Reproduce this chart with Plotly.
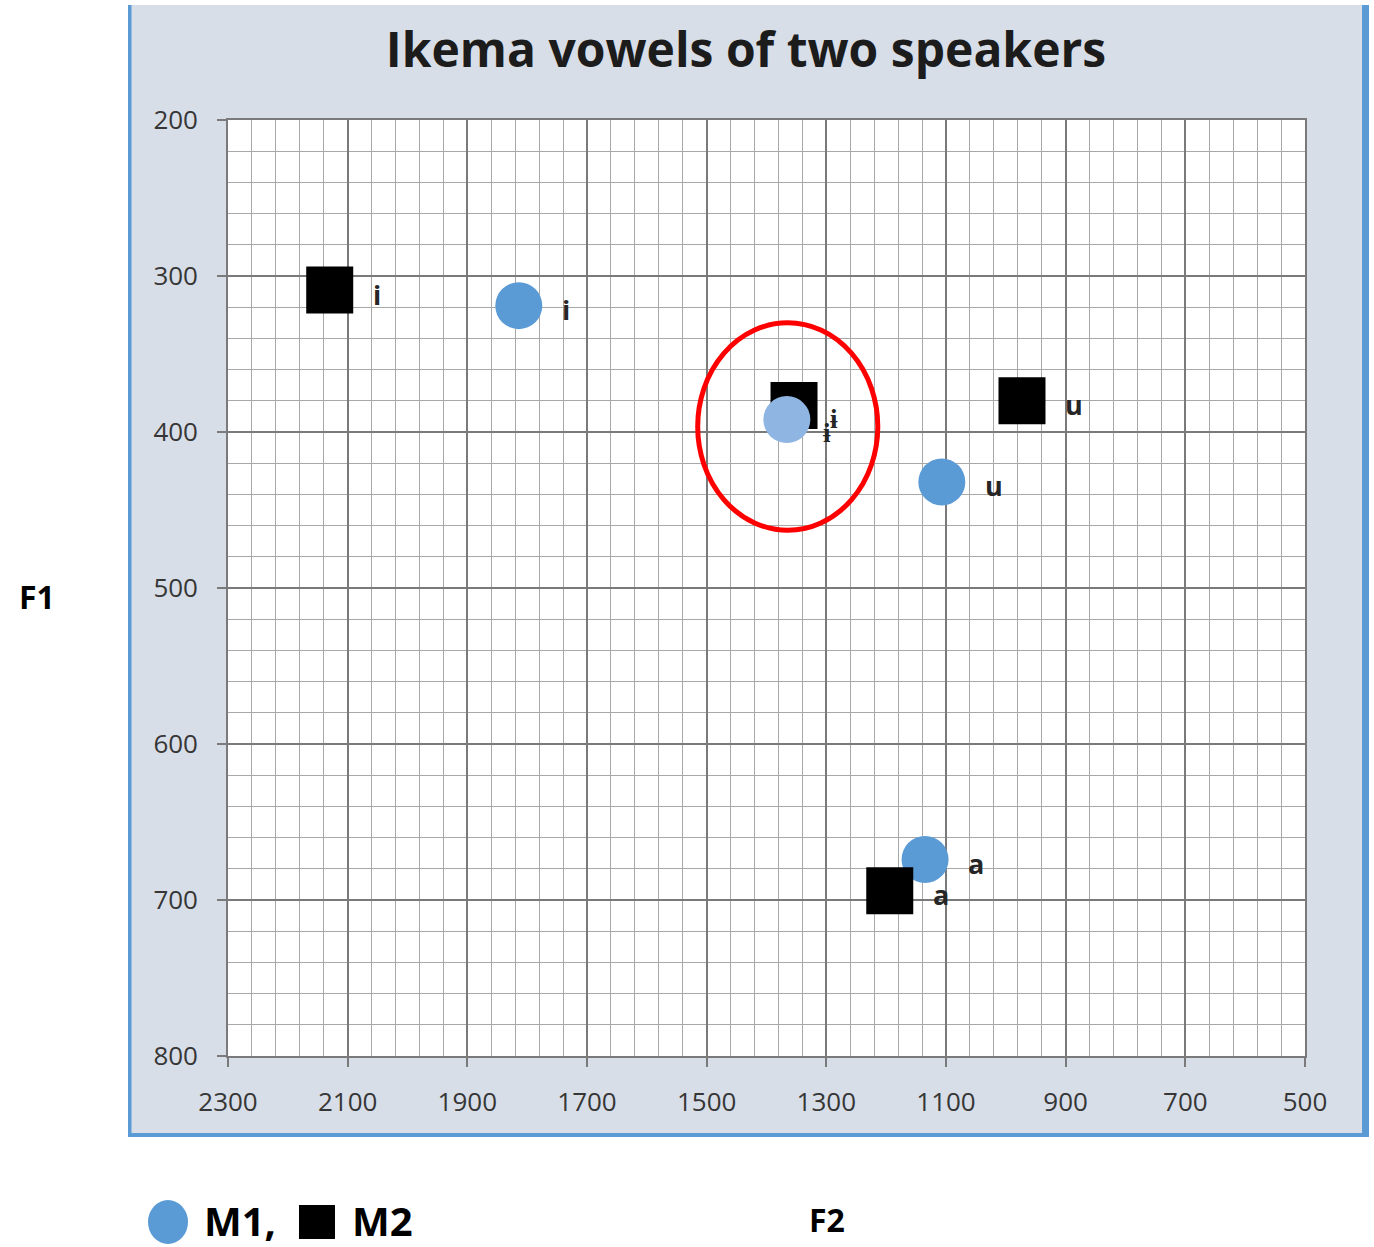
import plotly.graph_objects as go

# ---------------- data ----------------
vowels = ["i", "ɨ", "u", "a"]
m1_f2 = [1814, 1366, 1107, 1135]
m1_f1 = [319, 392, 432, 674]
m2_f2 = [2130, 1354, 973, 1194]
m2_f1 = [309, 383, 380, 694]
x_ticks = [2300, 2100, 1900, 1700, 1500, 1300, 1100, 900, 700, 500]
y_ticks = [200, 300, 400, 500, 600, 700, 800]

# ---------------- layout geometry ----------------
W, H = 1374, 1247
L, R, T, B = 228, 1305, 120, 1056


def px(xs):
    """screen pixel x -> paper x"""
    return (xs - L) / (R - L)


def py(ys):
    """screen pixel y -> paper y"""
    return (B - ys) / (B - T)


m1_colors = ["#5b9bd5", "#8fb5e2", "#5b9bd5", "#5b9bd5"]

fig = go.Figure()

# draw order: (speaker, index)
order = [("M1", 3), ("M2", 3), ("M2", 0), ("M2", 1), ("M2", 2), ("M1", 0), ("M1", 1), ("M1", 2)]
for spk, i in order:
    if spk == "M1":
        fig.add_trace(go.Scatter(
            x=[m1_f2[i]], y=[m1_f1[i]], mode="markers", name="M1", showlegend=False,
            marker=dict(symbol="circle", size=47, color=m1_colors[i], line=dict(width=0)),
            hoverinfo="skip"))
    else:
        fig.add_trace(go.Scatter(
            x=[m2_f2[i]], y=[m2_f1[i]], mode="markers", name="M2", showlegend=False,
            marker=dict(symbol="square", size=47, color="#000000", line=dict(width=0)),
            hoverinfo="skip"))

annotations = []
label_font = dict(family="Open Sans", size=27, color="#262626")
for f2s, f1s in ((m1_f2, m1_f1), (m2_f2, m2_f1)):
    for k, v in enumerate(vowels):
        annotations.append(dict(
            x=f2s[k], y=f1s[k], xref="x", yref="y", text=f"<b>{v}</b>", showarrow=False,
            xanchor="left", yanchor="middle", xshift=41 if v != "ɨ" else 34,
            yshift=-4 if v != "ɨ" else -12, font=label_font))

annotations += [
    dict(x=px(37), y=py(596), xref="paper", yref="paper", text="<b>F1</b>", showarrow=False,
         xanchor="center", yanchor="middle", font=dict(family="Open Sans", size=32, color="#000")),
    dict(x=px(827), y=py(1219), xref="paper", yref="paper", text="<b>F2</b>", showarrow=False,
         xanchor="center", yanchor="middle", font=dict(family="Open Sans", size=32, color="#000")),
    dict(x=px(202), y=py(1220), xref="paper", yref="paper", text="<b>M1,</b>", showarrow=False,
         xanchor="left", yanchor="middle", font=dict(family="Open Sans", size=40, color="#000")),
    dict(x=px(350), y=py(1220), xref="paper", yref="paper", text="<b>M2</b>", showarrow=False,
         xanchor="left", yanchor="middle", font=dict(family="Open Sans", size=40, color="#000")),
]

frame_blue = "#5b9bd5"
shapes = [
    # outer chart frame fill
    dict(type="rect", xref="paper", yref="paper", x0=px(128), x1=px(1369), y0=py(5), y1=py(1137),
         fillcolor="#d8dee8", line=dict(width=0), layer="below"),
    # frame borders (left, right, bottom)
    dict(type="rect", xref="paper", yref="paper", x0=px(128), x1=px(131.5), y0=py(5), y1=py(1137),
         fillcolor=frame_blue, line=dict(width=0), layer="below"),
    dict(type="rect", xref="paper", yref="paper", x0=px(1362), x1=px(1369), y0=py(5), y1=py(1137),
         fillcolor=frame_blue, line=dict(width=0), layer="below"),
    dict(type="rect", xref="paper", yref="paper", x0=px(128), x1=px(1369), y0=py(1133), y1=py(1137),
         fillcolor=frame_blue, line=dict(width=0), layer="below"),
    # plot area white
    dict(type="rect", xref="paper", yref="paper", x0=0, x1=1, y0=0, y1=1,
         fillcolor="#ffffff", line=dict(width=0), layer="below"),
    # red ellipse
    dict(type="circle", xref="x", yref="y", x0=1515, x1=1214, y0=330, y1=463,
         line=dict(color="#ff0000", width=5), layer="above"),
    # legend symbols
    dict(type="circle", xref="paper", yref="paper", x0=px(148), x1=px(188), y0=py(1200), y1=py(1244),
         fillcolor="#5b9bd5", line=dict(width=0)),
    dict(type="rect", xref="paper", yref="paper", x0=px(299), x1=px(335), y0=py(1205), y1=py(1239),
         fillcolor="#000000", line=dict(width=0)),
]

tick_font = dict(family="Open Sans", size=26, color="#363636")
axis_common = dict(
    tickfont=tick_font, showgrid=True, gridcolor="#7a7a7a", gridwidth=1.6,
    showline=True, linecolor="#7a7a7a", linewidth=1.6, mirror=True,
    ticks="outside", ticklen=9, tickcolor="#7a7a7a", tickwidth=1.6,
    zeroline=False, fixedrange=True)

fig.update_layout(
    width=W, height=H,
    margin=dict(l=L, r=W - R, t=T, b=H - B, pad=0),
    paper_bgcolor="#ffffff", plot_bgcolor="#ffffff",
    showlegend=False,
    title=dict(text="<b>Ikema vowels of two speakers</b>", x=746 / W, y=1 - 50 / H,
               xref="container", yref="container", xanchor="center", yanchor="middle",
               font=dict(family="Open Sans", size=48, color="#1c1c1c")),
    xaxis=dict(range=[2300, 500], tickmode="array", tickvals=x_ticks,
               ticktext=[str(v) for v in x_ticks], ticklabelstandoff=13,
               minor=dict(dtick=40, tick0=20, showgrid=True, gridcolor="#a8a8a8", gridwidth=1.1),
               **axis_common),
    yaxis=dict(range=[800, 200], tickmode="array", tickvals=y_ticks,
               ticktext=[str(v) for v in y_ticks], ticklabelstandoff=14,
               minor=dict(dtick=20, tick0=0, showgrid=True, gridcolor="#a8a8a8", gridwidth=1.1),
               **axis_common),
    annotations=annotations,
    shapes=shapes,
)

# remove the page's default 8px body margin so the figure fills the window exactly
fig.write_html("out.html",
               config={"displayModeBar": False},
               post_script="document.body.style.margin='0';document.body.style.overflow='hidden';")
